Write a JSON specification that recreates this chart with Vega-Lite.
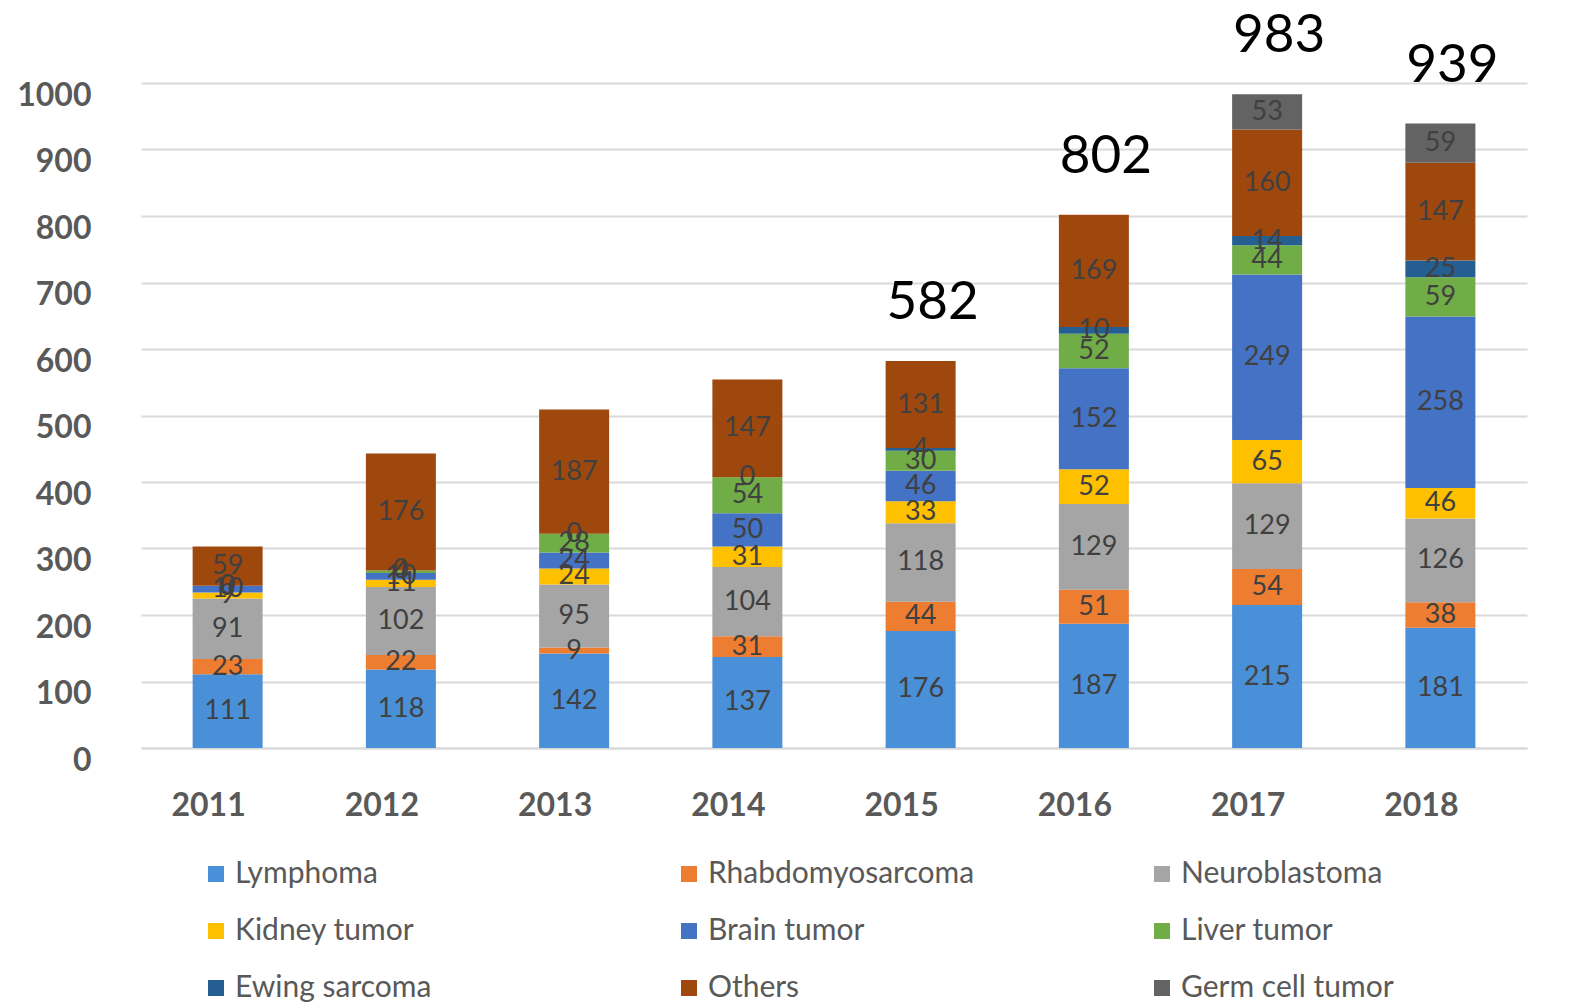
{
"$schema": "https://vega.github.io/schema/vega-lite/v6.json",
"width": 1386, "height": 665,
"autosize": "none",
"padding": {"left": 141, "top": 83, "right": 47, "bottom": 254},
"background": "white",
"config": {"view": {"stroke": null}, "font": "Lato"},
"datasets": {
"cases": [
{"year":"2011","type":"Lymphoma","n":111},{"year":"2011","type":"Rhabdomyosarcoma","n":23},{"year":"2011","type":"Neuroblastoma","n":91},{"year":"2011","type":"Kidney tumor","n":9},{"year":"2011","type":"Brain tumor","n":10},{"year":"2011","type":"Liver tumor","n":0},{"year":"2011","type":"Ewing sarcoma","n":0},{"year":"2011","type":"Others","n":59},
{"year":"2012","type":"Lymphoma","n":118},{"year":"2012","type":"Rhabdomyosarcoma","n":22},{"year":"2012","type":"Neuroblastoma","n":102},{"year":"2012","type":"Kidney tumor","n":11},{"year":"2012","type":"Brain tumor","n":10},{"year":"2012","type":"Liver tumor","n":4},{"year":"2012","type":"Ewing sarcoma","n":0},{"year":"2012","type":"Others","n":176},
{"year":"2013","type":"Lymphoma","n":142},{"year":"2013","type":"Rhabdomyosarcoma","n":9},{"year":"2013","type":"Neuroblastoma","n":95},{"year":"2013","type":"Kidney tumor","n":24},{"year":"2013","type":"Brain tumor","n":24},{"year":"2013","type":"Liver tumor","n":28},{"year":"2013","type":"Ewing sarcoma","n":0},{"year":"2013","type":"Others","n":187},
{"year":"2014","type":"Lymphoma","n":137},{"year":"2014","type":"Rhabdomyosarcoma","n":31},{"year":"2014","type":"Neuroblastoma","n":104},{"year":"2014","type":"Kidney tumor","n":31},{"year":"2014","type":"Brain tumor","n":50},{"year":"2014","type":"Liver tumor","n":54},{"year":"2014","type":"Ewing sarcoma","n":0},{"year":"2014","type":"Others","n":147},
{"year":"2015","type":"Lymphoma","n":176},{"year":"2015","type":"Rhabdomyosarcoma","n":44},{"year":"2015","type":"Neuroblastoma","n":118},{"year":"2015","type":"Kidney tumor","n":33},{"year":"2015","type":"Brain tumor","n":46},{"year":"2015","type":"Liver tumor","n":30},{"year":"2015","type":"Ewing sarcoma","n":4},{"year":"2015","type":"Others","n":131},
{"year":"2016","type":"Lymphoma","n":187},{"year":"2016","type":"Rhabdomyosarcoma","n":51},{"year":"2016","type":"Neuroblastoma","n":129},{"year":"2016","type":"Kidney tumor","n":52},{"year":"2016","type":"Brain tumor","n":152},{"year":"2016","type":"Liver tumor","n":52},{"year":"2016","type":"Ewing sarcoma","n":10},{"year":"2016","type":"Others","n":169},
{"year":"2017","type":"Lymphoma","n":215},{"year":"2017","type":"Rhabdomyosarcoma","n":54},{"year":"2017","type":"Neuroblastoma","n":129},{"year":"2017","type":"Kidney tumor","n":65},{"year":"2017","type":"Brain tumor","n":249},{"year":"2017","type":"Liver tumor","n":44},{"year":"2017","type":"Ewing sarcoma","n":14},{"year":"2017","type":"Others","n":160},{"year":"2017","type":"Germ cell tumor","n":53},
{"year":"2018","type":"Lymphoma","n":181},{"year":"2018","type":"Rhabdomyosarcoma","n":38},{"year":"2018","type":"Neuroblastoma","n":126},{"year":"2018","type":"Kidney tumor","n":46},{"year":"2018","type":"Brain tumor","n":258},{"year":"2018","type":"Liver tumor","n":59},{"year":"2018","type":"Ewing sarcoma","n":25},{"year":"2018","type":"Others","n":147},{"year":"2018","type":"Germ cell tumor","n":59}
],
"totals": [
{"year":"2015","total":582},{"year":"2016","total":802},{"year":"2017","total":983},{"year":"2018","total":939}
]
},
"layer": [
{
"data": {"name": "cases"},
"transform": [{"calculate": "indexof(['Lymphoma','Rhabdomyosarcoma','Neuroblastoma','Kidney tumor','Brain tumor','Liver tumor','Ewing sarcoma','Others','Germ cell tumor'], datum.type)", "as": "stackKey"}],
"mark": {"type": "bar", "width": 70},
"encoding": {
"x": {"field": "year", "type": "nominal", "title": null,
  "scale": {"paddingInner": 0.6, "paddingOuter": 0.3},
  "axis": {"labelAngle": 0, "labelFontSize": 32, "labelFontWeight": "bold", "labelColor": "#595959", "labelPadding": 42, "labelOffset": -19, "ticks": false, "domainColor": "#d9d9d9", "domainWidth": 2}},
"y": {"field": "n", "type": "quantitative", "stack": "zero", "title": null,
  "scale": {"domain": [0, 1000], "nice": false},
  "axis": {"values": [0,100,200,300,400,500,600,700,800,900,1000], "format": "d", "labelFontSize": 32, "labelFontWeight": "bold", "labelColor": "#595959", "labelPadding": 50, "labelOffset": 12, "ticks": false, "domain": false, "gridColor": "#d9d9d9", "gridWidth": 2}},
"order": {"field": "stackKey", "type": "quantitative", "sort": "ascending"},
"color": {"field": "type", "type": "nominal",
  "scale": {"domain": ["Lymphoma","Rhabdomyosarcoma","Neuroblastoma","Kidney tumor","Brain tumor","Liver tumor","Ewing sarcoma","Others","Germ cell tumor"],
    "range": ["#4a90d9","#ed7d31","#a5a5a5","#ffc000","#4472c4","#70ad47","#255e91","#9e480e","#636363"]},
  "legend": {"title": null, "orient": "none", "direction": "horizontal", "legendX": 60, "legendY": 776, "columns": 3, "gridAlign": "all", "symbolType": "square", "symbolSize": 256, "symbolStrokeWidth": 0, "labelFontSize": 30, "labelColor": "#595959", "labelOffset": 4, "columnPadding": 172, "rowPadding": 27, "padding": 0, "labelLimit": 400}}
}
},
{
"data": {"name": "cases"},
"transform": [{"calculate": "indexof(['Lymphoma','Rhabdomyosarcoma','Neuroblastoma','Kidney tumor','Brain tumor','Liver tumor','Ewing sarcoma','Others','Germ cell tumor'], datum.type)", "as": "stackKey"}],
"mark": {"type": "text", "fontSize": 27, "baseline": "middle", "color": "#404040"},
"encoding": {
"x": {"field": "year", "type": "nominal"},
"y": {"field": "n", "type": "quantitative", "stack": "zero", "bandPosition": 0.5},
"detail": {"field": "type", "type": "nominal"},
"order": {"field": "stackKey", "type": "quantitative", "sort": "ascending"},
"text": {"field": "n", "type": "quantitative"}
}
},
{
"data": {"name": "totals"},
"mark": {"type": "text", "fontSize": 53, "baseline": "alphabetic", "dy": -42, "dx": 12, "color": "#000000"},
"encoding": {
"x": {"field": "year", "type": "nominal"},
"y": {"field": "total", "type": "quantitative"},
"text": {"field": "total", "type": "quantitative"}
}
}
]
}
